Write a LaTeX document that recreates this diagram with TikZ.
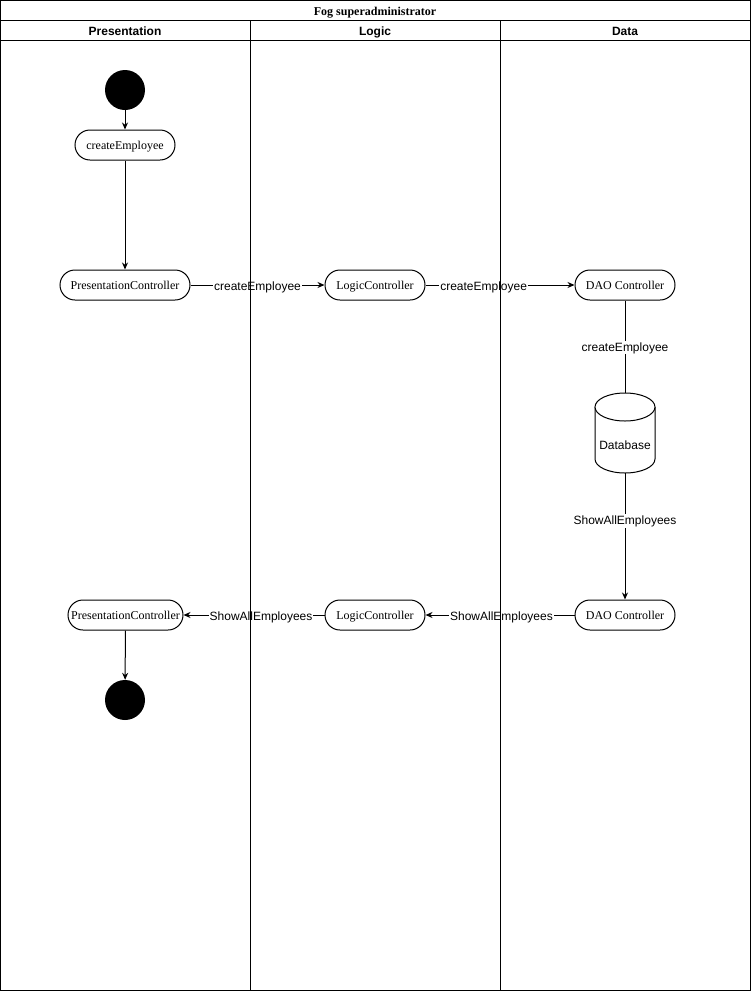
\documentclass[tikz,border=0pt]{standalone}
\usepackage{fontspec}
\setmainfont{Liberation Serif}
\setsansfont{Liberation Sans}
\usetikzlibrary{arrows.meta}
\begin{document}
\begin{tikzpicture}[x=1pt,y=-1pt,
  every node/.style={text height=10.6pt, text depth=2.6pt},
  act/.style={draw, line width=1pt, rounded corners=15pt, minimum height=30pt,
    inner sep=0pt, font=\fontsize{12}{14}\selectfont},
  dot/.style={circle, fill=black, minimum size=40pt, inner sep=0pt, text height=, text depth=},
  flow/.style={line width=1pt, -{Stealth[length=7pt,width=6pt]}},
  plainline/.style={line width=1pt},
  lbl/.style={fill=white, inner xsep=1pt, inner ysep=0pt, yshift=-1pt,
    font=\sffamily\fontsize{12}{14}\selectfont},
  lanehead/.style={font=\sffamily\bfseries\fontsize{12}{14}\selectfont},
]
\useasboundingbox (0,0) rectangle (751,991);

% activities and states
\node[dot] (start) at (125,90) {};
\node[act, minimum width=100pt] (create) at (125,145) {createEmployee};
\node[act, minimum width=130pt] (pc1) at (125,285) {PresentationController};
\node[act, minimum width=100pt] (lc1) at (375,285) {LogicController};
\node[act, minimum width=100pt] (dao1) at (625,285) {DAO Controller};
\node[act, minimum width=100pt] (dao2) at (625,615) {DAO Controller};
\node[act, minimum width=100pt] (lc2) at (375,615) {LogicController};
\node[act, minimum width=115pt] (pc2) at (125.5,615) {PresentationController};
\node[dot] (stop) at (125,700) {};

% database cylinder
\node[minimum width=60pt, minimum height=80pt, inner sep=0pt, text height=, text depth=] (db) at (625,433) {};
\draw[line width=1pt, fill=white] (595,407) -- (595,459)
  arc[start angle=180, end angle=360, x radius=30pt, y radius=14pt] -- (655,407);
\draw[line width=1pt, fill=white] (625,407) ellipse[x radius=30pt, y radius=14pt];
\node[font=\sffamily\fontsize{12}{14}\selectfont] (dbtext) at (625,445.5) {Database};

% connectors
\draw[flow] (start) -- (create);
\draw[flow] (create) -- (pc1);
\draw[flow] (pc1) -- node[lbl, pos=0.5] (l1) {createEmployee} (lc1);
\draw[flow] (lc1) -- node[lbl, pos=0.39] (l2) {createEmployee} (dao1);
\draw[plainline] (dao1) -- node[lbl, pos=0.5] (l3) {createEmployee} (db.north);
\draw[flow] (db.south) -- node[lbl, pos=0.37] (l4) {ShowAllEmployees} (dao2);
\draw[flow] (dao2) -- node[lbl, pos=0.49] (l5) {ShowAllEmployees} (lc2);
\draw[flow] (lc2) -- node[lbl, pos=0.45] (l6) {ShowAllEmployees} (pc2);
\draw[flow] (pc2) -- (stop);

% pool and swimlanes
\draw[line width=1pt] (0.5,0.5) rectangle (750.5,990.5);
\draw[line width=1pt] (0.5,20.5) -- (750.5,20.5);
\draw[line width=1pt] (0.5,40.5) -- (750.5,40.5);
\draw[line width=1pt] (250.5,20.5) -- (250.5,990.5);
\draw[line width=1pt] (500.5,20.5) -- (500.5,990.5);
\node[font=\bfseries\fontsize{12}{14}\selectfont] (title) at (375,11.5) {Fog superadministrator};
\node[lanehead] (hp) at (125,31) {Presentation};
\node[lanehead] (hl) at (375,31) {Logic};
\node[lanehead] (hd) at (625,31) {Data};
\end{tikzpicture}
\end{document}
